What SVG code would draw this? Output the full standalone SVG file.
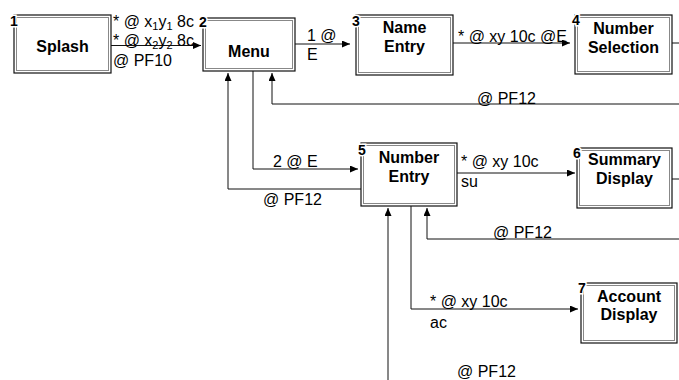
<svg xmlns="http://www.w3.org/2000/svg" width="679" height="380" viewBox="0 0 679 380">
<defs>
<marker id="ah" markerWidth="8" markerHeight="7" refX="8" refY="3.5" orient="auto" markerUnits="userSpaceOnUse">
<path d="M0,0 L8,3.5 L0,7 z" fill="#000"/>
</marker>
<style>
.outer{fill:#fff;stroke:#111;stroke-width:1.2}
.inner{fill:none;stroke:#888;stroke-width:1}
.t{font-family:"Liberation Sans",Arial,sans-serif;font-weight:bold;font-size:16px;text-anchor:middle;fill:#000}
.n{font-family:"Liberation Sans",Arial,sans-serif;font-weight:bold;font-size:14px;fill:#000;stroke:#fff;stroke-width:3;paint-order:stroke}
.l{font-family:"Liberation Sans",Arial,sans-serif;font-size:16px;fill:#000}
.c{fill:none;stroke:#111;stroke-width:1}
.s{font-size:11px}
</style>
</defs>
<rect width="679" height="380" fill="#fff"/>
<g id="connectors">
<path class="c" d="M111,45.5 H201" marker-end="url(#ah)"/>
<path class="c" d="M295,44 H350" marker-end="url(#ah)"/>
<path class="c" d="M453,43 H570" marker-end="url(#ah)"/>
<path class="c" d="M679,104 H272 V73" marker-end="url(#ah)"/>
<path class="c" d="M253,71 V169 H358" marker-end="url(#ah)"/>
<path class="c" d="M361,189 H228 V73" marker-end="url(#ah)"/>
<path class="c" d="M457,173 H575" marker-end="url(#ah)"/>
<path class="c" d="M679,239 H427 V208" marker-end="url(#ah)"/>
<path class="c" d="M411,206 V309 H578" marker-end="url(#ah)"/>
<path class="c" d="M388,380 V208" marker-end="url(#ah)"/>
<path class="c" d="M672,43 H679"/>
<path class="c" d="M672,179 H679"/>
<text class="l" x="113" y="27">* @ x<tspan class="s" dy="3">1</tspan><tspan dy="-3">y</tspan><tspan class="s" dy="3">1</tspan><tspan dy="-3"> 8c</tspan></text>
<text class="l" x="113" y="46">* @ x<tspan class="s" dy="3">2</tspan><tspan dy="-3">y</tspan><tspan class="s" dy="3">2</tspan><tspan dy="-3"> 8c</tspan></text>
<text class="l" x="113" y="66">@ PF10</text>
<text class="l" x="307" y="41">1 @</text>
<text class="l" x="307" y="60">E</text>
<text class="l" x="458" y="42">* @ xy 10c @E</text>
<text class="l" x="477" y="104">@ PF12</text>
<text class="l" x="273" y="167">2 @ E</text>
<text class="l" x="263" y="205">@ PF12</text>
<text class="l" x="461" y="167">* @ xy 10c</text>
<text class="l" x="461" y="187">su</text>
<text class="l" x="493" y="238">@ PF12</text>
<text class="l" x="430" y="307">* @ xy 10c</text>
<text class="l" x="430" y="328">ac</text>
<text class="l" x="457" y="377">@ PF12</text>
</g>
<g id="node1">
<rect class="outer" x="14" y="15" width="97" height="58"/>
<rect class="inner" x="16.5" y="17.5" width="92" height="53"/>
<text class="t" x="62.5" y="52">Splash</text>
<text class="n" x="10" y="26">1</text>
</g>
<g id="node2">
<rect class="outer" x="203" y="18" width="92" height="53"/>
<rect class="inner" x="205.5" y="20.5" width="87" height="48"/>
<text class="t" x="249" y="57">Menu</text>
<text class="n" x="199" y="27">2</text>
</g>
<g id="node3">
<rect class="outer" x="356" y="15" width="97" height="60"/>
<rect class="inner" x="358.5" y="17.5" width="92" height="55"/>
<text class="t" x="404.5" y="33">Name</text>
<text class="t" x="404.5" y="52">Entry</text>
<text class="n" x="352" y="26">3</text>
</g>
<g id="node4">
<rect class="outer" x="575" y="15" width="97" height="59"/>
<rect class="inner" x="577.5" y="17.5" width="92" height="54"/>
<text class="t" x="623.5" y="34">Number</text>
<text class="t" x="623.5" y="53">Selection</text>
<text class="n" x="572" y="25">4</text>
</g>
<g id="node5">
<rect class="outer" x="361" y="143" width="96" height="63"/>
<rect class="inner" x="363.5" y="145.5" width="91" height="58"/>
<text class="t" x="409" y="163">Number</text>
<text class="t" x="409" y="182">Entry</text>
<text class="n" x="358" y="155">5</text>
</g>
<g id="node6">
<rect class="outer" x="577" y="148" width="95" height="60"/>
<rect class="inner" x="579.5" y="150.5" width="90" height="55"/>
<text class="t" x="624.5" y="165">Summary</text>
<text class="t" x="624.5" y="184">Display</text>
<text class="n" x="573" y="158">6</text>
</g>
<g id="node7">
<rect class="outer" x="581" y="283" width="96" height="60"/>
<rect class="inner" x="583.5" y="285.5" width="91" height="55"/>
<text class="t" x="629" y="302">Account</text>
<text class="t" x="629" y="320">Display</text>
<text class="n" x="578" y="293">7</text>
</g>
</svg>
